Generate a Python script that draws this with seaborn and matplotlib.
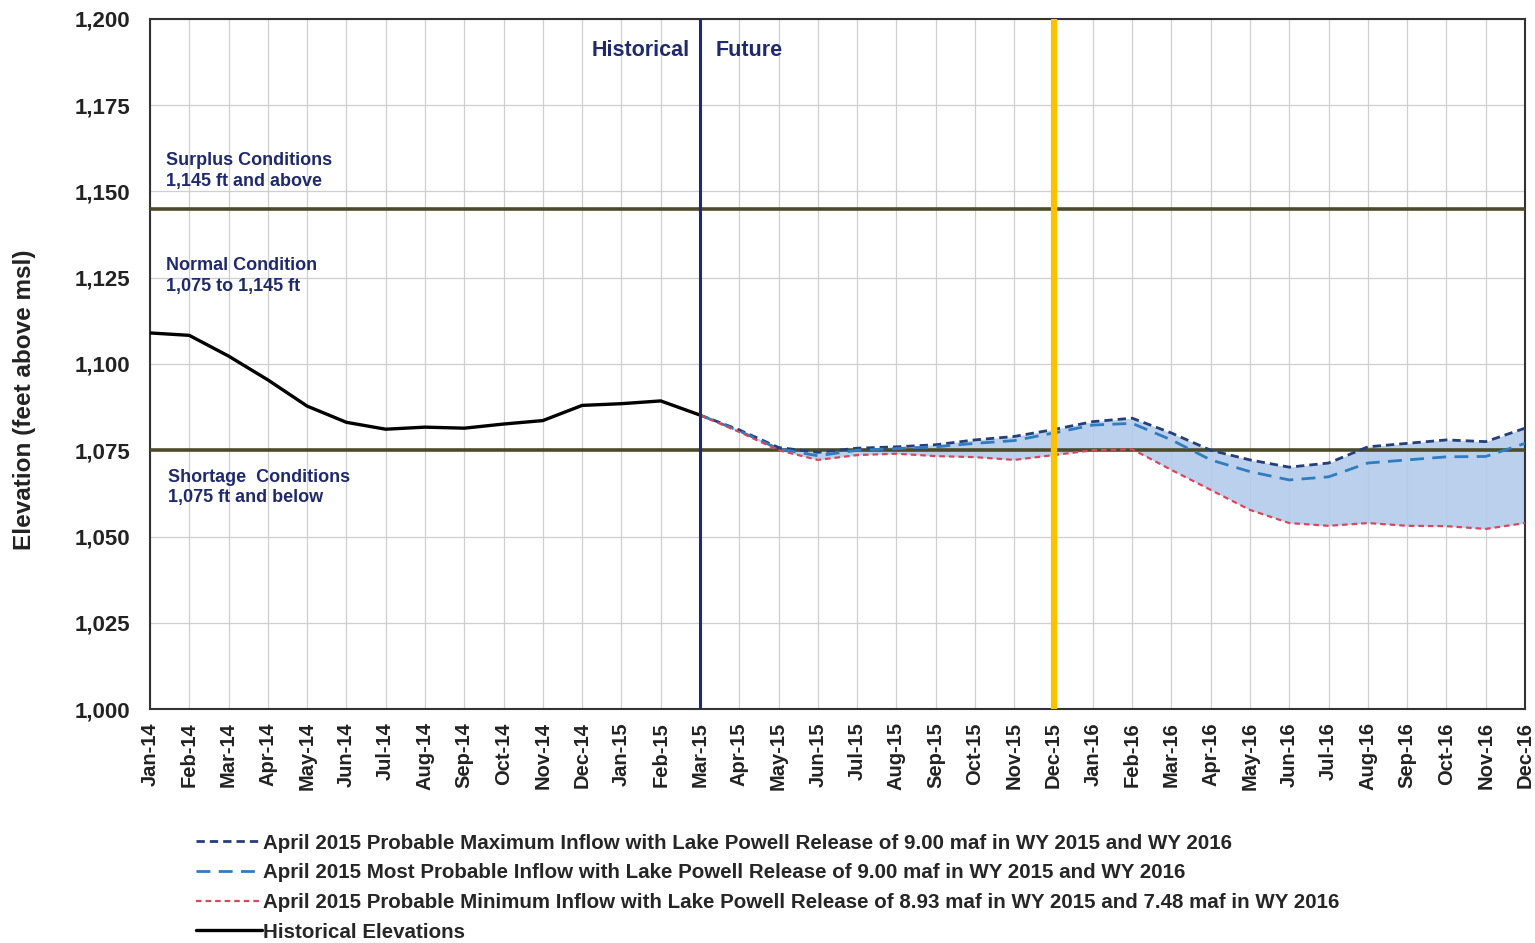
import numpy as np
import pandas as pd
import matplotlib
matplotlib.use("Agg")
import matplotlib.pyplot as plt
import seaborn as sns

# Aylar (Jan-14 .. Dec-16)
months = ["Jan-14", "Feb-14", "Mar-14", "Apr-14", "May-14", "Jun-14", "Jul-14", "Aug-14",
          "Sep-14", "Oct-14", "Nov-14", "Dec-14", "Jan-15", "Feb-15", "Mar-15", "Apr-15",
          "May-15", "Jun-15", "Jul-15", "Aug-15", "Sep-15", "Oct-15", "Nov-15", "Dec-15",
          "Jan-16", "Feb-16", "Mar-16", "Apr-16", "May-16", "Jun-16", "Jul-16", "Aug-16",
          "Sep-16", "Oct-16", "Nov-16", "Dec-16"]

# Historical elevations Jan-14 .. Mar-15
historical = [1109.0, 1108.3, 1102.3, 1095.4, 1087.8, 1083.1, 1081.1, 1081.7, 1081.4,
              1082.6, 1083.6, 1088.0, 1088.5, 1089.3, 1085.2]

# Projections Mar-15 .. Dec-16
prob_max = [1085.2, 1080.9, 1075.8, 1074.4, 1075.6, 1076.0, 1076.6, 1078.0, 1079.0, 1081.0,
            1083.3, 1084.3, 1080.0, 1075.0, 1072.2, 1070.1, 1071.3, 1076.0, 1077.0, 1078.0,
            1077.5, 1081.4]
most_prob = [1085.2, 1080.6, 1075.4, 1073.4, 1075.0, 1075.5, 1076.0, 1077.0, 1077.8, 1080.0,
             1082.3, 1082.8, 1078.0, 1072.2, 1068.8, 1066.4, 1067.3, 1071.3, 1072.2, 1073.1,
             1073.2, 1077.0]
prob_min = [1085.2, 1080.3, 1075.0, 1072.2, 1073.6, 1074.0, 1073.3, 1073.0, 1072.2, 1073.6,
            1075.0, 1075.3, 1069.3, 1063.5, 1057.7, 1053.9, 1053.1, 1053.9, 1053.1, 1053.0,
            1052.2, 1053.9]

surplus_level = 1145
shortage_level = 1075

hist_x = np.arange(len(historical))
fut_x = np.arange(len(historical) - 1, len(months))

labels = [
    "April 2015 Probable Maximum Inflow with Lake Powell Release of 9.00 maf in WY 2015 and WY 2016",
    "April 2015 Most Probable Inflow with Lake Powell Release of 9.00 maf in WY 2015 and WY 2016",
    "April 2015 Probable Minimum Inflow with Lake Powell Release of 8.93 maf in WY 2015 and 7.48 maf in WY 2016",
    "Historical Elevations",
]

sns.set_style("white")
plt.rcParams["font.family"] = ["Liberation Sans", "DejaVu Sans"]

fig = plt.figure(figsize=(15.35, 9.43), dpi=100)
ax = fig.add_axes([0.0977, 0.2481, 0.8958, 0.7318])

# Olasi aralik dolgusu
ax.fill_between(fut_x, prob_min, prob_max, color="#b3cbea", alpha=0.9, zorder=1, linewidth=0)

# Kosul cizgileri
ax.axhline(surplus_level, color="#4b4b2c", lw=2.6, zorder=3)
ax.axhline(shortage_level, color="#4b4b2c", lw=2.6, zorder=3)

sns.lineplot(x=fut_x, y=prob_max, ax=ax, color="#243f7a", lw=2.0, zorder=4,
             label=labels[0]).lines[-1].set_dashes([3, 1.8])
sns.lineplot(x=fut_x, y=most_prob, ax=ax, color="#2f7cc0", lw=2.0, zorder=4,
             label=labels[1]).lines[-1].set_dashes([5, 3])
sns.lineplot(x=fut_x, y=prob_min, ax=ax, color="#d8485c", lw=1.6, zorder=4,
             label=labels[2]).lines[-1].set_dashes([2.5, 1.8])
sns.lineplot(x=hist_x, y=historical, ax=ax, color="black", lw=2.4, zorder=5,
             label=labels[3])

# Historical / Future ayraci ve Dec-15 cizgisi
ax.axvline(14, color="#1c2a78", lw=2.2, zorder=6)
ax.axvline(23, color="#ffc000", lw=4.5, zorder=6)

ax.set_xlim(0, len(months) - 1)
ax.set_ylim(1000, 1200)
ax.set_xticks(np.arange(len(months)))
ax.set_xticklabels(months, rotation=90, fontsize=14.5, fontweight="bold", color="#222222")
yt = np.arange(1000, 1201, 25)
ax.set_yticks(yt)
ax.set_yticklabels([f"{v:,}" for v in yt], fontsize=16, fontweight="bold", color="#222222")
ax.tick_params(axis="both", length=6, width=1, color="#333333", direction="out")
ax.tick_params(axis="y", pad=8)
ax.set_ylabel("Elevation (feet above msl)", fontsize=17.5, fontweight="bold", color="#222222")
ax.yaxis.set_label_coords(-0.083, 0.448)

ax.grid(True, color="#cfcfcf", lw=0.9, zorder=0)
ax.set_axisbelow(True)
for s in ax.spines.values():
    s.set_color("#333333")
    s.set_linewidth(1.5)
    s.set_visible(True)

txt_color = "#1f2a6e"
ax.text(0.4, 1156, "Surplus Conditions\n1,145 ft and above", fontsize=13, fontweight="bold",
        color=txt_color, va="center", ha="left", linespacing=1.3)
ax.text(0.4, 1125.4, "Normal Condition\n1,075 to 1,145 ft", fontsize=13, fontweight="bold",
        color=txt_color, va="center", ha="left", linespacing=1.3)
ax.text(0.46, 1064.2, "Shortage  Conditions\n1,075 ft and below", fontsize=13, fontweight="bold",
        color=txt_color, va="center", ha="left", linespacing=1.3)
ax.text(13.75, 1191, "Historical", fontsize=15.5, fontweight="bold", color=txt_color,
        ha="right", va="center")
ax.text(14.4, 1191, "Future", fontsize=15.5, fontweight="bold", color=txt_color,
        ha="left", va="center")

handles, lbls = ax.get_legend_handles_labels()
ax.legend_.remove()
fig.legend(handles, lbls, loc="upper left", bbox_to_anchor=(0.128, 0.116), frameon=False,
           prop={"size": 14.8, "weight": "bold"}, handlelength=3.2, handletextpad=0.05,
           labelspacing=0.52, borderaxespad=0, borderpad=0)

fig.savefig("out.png", dpi=100)
